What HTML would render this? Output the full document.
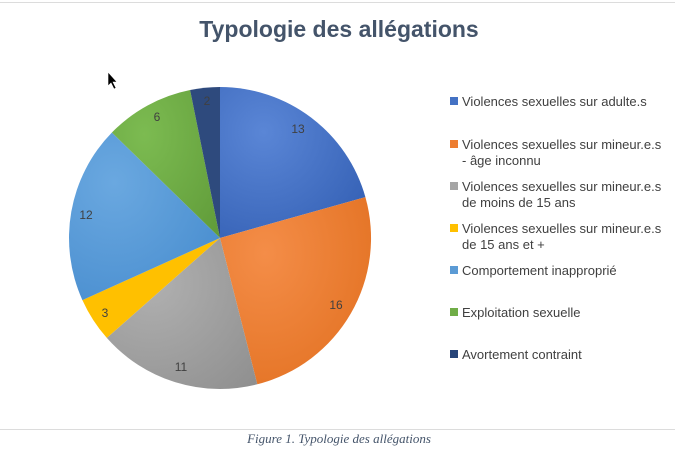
<!DOCTYPE html>
<html><head><meta charset="utf-8"><style>
body{margin:0;width:675px;height:456px;background:#fff;overflow:hidden;font-family:"Liberation Sans",sans-serif}
</style></head><body>
<svg width="675" height="456" xmlns="http://www.w3.org/2000/svg">
<defs>
<radialGradient id="g1" cx="0.3" cy="0.3" r="1"><stop offset="0" stop-color="#5a86d6"/><stop offset="1" stop-color="#2f5bb0"/></radialGradient>
<radialGradient id="g2" cx="0.3" cy="0.3" r="1"><stop offset="0" stop-color="#f48d48"/><stop offset="1" stop-color="#e06d1c"/></radialGradient>
<radialGradient id="g3" cx="0.3" cy="0.3" r="1"><stop offset="0" stop-color="#b0b0b0"/><stop offset="1" stop-color="#8e8e8e"/></radialGradient>
<radialGradient id="g5" cx="0.3" cy="0.3" r="1"><stop offset="0" stop-color="#6aa8e0"/><stop offset="1" stop-color="#4389cc"/></radialGradient>
<radialGradient id="g6" cx="0.3" cy="0.3" r="1"><stop offset="0" stop-color="#7cbb51"/><stop offset="1" stop-color="#5f9a38"/></radialGradient>
</defs>
<line x1="0" y1="2.5" x2="675" y2="2.5" stroke="#dcdcdc"/>
<line x1="0" y1="429.5" x2="675" y2="429.5" stroke="#dcdcdc"/>
<text x="339" y="37" text-anchor="middle" font-size="23" font-weight="bold" fill="#44546a">Typologie des allégations</text>
<g stroke="none">
<path d="M220,238 L220,87 A151,151 0 0 1 365.4,197.1 Z" fill="url(#g1)"/>
<path d="M220,238 L365.4,197.1 A151,151 0 0 1 257.3,384.3 Z" fill="url(#g2)"/>
<path d="M220,238 L257.3,384.3 A151,151 0 0 1 106.8,337.9 Z" fill="url(#g3)"/>
<path d="M220,238 L106.8,337.9 A151,151 0 0 1 82.4,300.1 Z" fill="#ffc000"/>
<path d="M220,238 L82.4,300.1 A151,151 0 0 1 111.9,132.5 Z" fill="url(#g5)"/>
<path d="M220,238 L111.9,132.5 A151,151 0 0 1 190.1,90 Z" fill="url(#g6)"/>
<path d="M220,238 L190.1,90 A151,151 0 0 1 220,87 Z" fill="#2e4a7d"/>
</g>
<g font-size="12" fill="#404040" text-anchor="middle">
<text x="298" y="133">13</text><text x="336" y="309">16</text><text x="181" y="371">11</text>
<text x="105" y="317">3</text><text x="86" y="219">12</text><text x="157" y="121">6</text><text x="207" y="105">2</text>
</g>
<g font-size="13" fill="#404040">
<rect x="450" y="97" width="8" height="8" fill="#4472c4"/><text x="462" y="106">Violences sexuelles sur adulte.s</text>
<rect x="450" y="140" width="8" height="8" fill="#ed7d31"/><text x="462" y="149">Violences sexuelles sur mineur.e.s</text><text x="462" y="165">- âge inconnu</text>
<rect x="450" y="182" width="8" height="8" fill="#a5a5a5"/><text x="462" y="191">Violences sexuelles sur mineur.e.s</text><text x="462" y="207">de moins de 15 ans</text>
<rect x="450" y="224" width="8" height="8" fill="#ffc000"/><text x="462" y="233">Violences sexuelles sur mineur.e.s</text><text x="462" y="249">de 15 ans et +</text>
<rect x="450" y="266" width="8" height="8" fill="#5b9bd5"/><text x="462" y="275">Comportement inapproprié</text>
<rect x="450" y="308" width="8" height="8" fill="#70ad47"/><text x="462" y="317">Exploitation sexuelle</text>
<rect x="450" y="350" width="8" height="8" fill="#264478"/><text x="462" y="359">Avortement contraint</text>
</g>
<path d="M108,72 L108,86 L111,83 L114,89 L116,88 L113,82 L117,82 Z" fill="#000" stroke="#fff" stroke-width="0.6"/>
<text x="339" y="443" text-anchor="middle" font-family="Liberation Serif,serif" font-style="italic" font-size="13" fill="#44546a">Figure 1. Typologie des allégations</text>
</svg>
</body></html>
